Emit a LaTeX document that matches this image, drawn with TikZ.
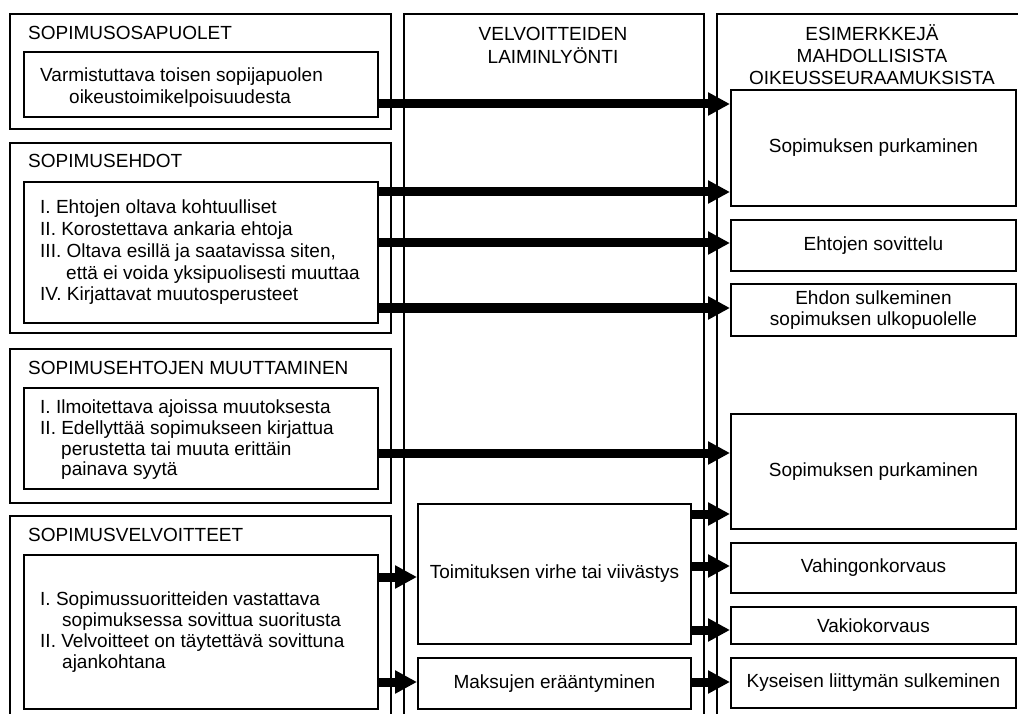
\documentclass[tikz,border=0pt]{standalone}
\usepackage{fontspec}
\setmainfont{Liberation Sans}
\usetikzlibrary{arrows.meta}
\newcommand\dtxt{\fontsize{19}{21.7}\selectfont}
\newcommand\dtxtb{\fontsize{19}{20.8}\selectfont}
\begin{document}
\begin{tikzpicture}[x=1pt,y=-1pt,
  frame/.style={draw, line width=1.9pt, inner sep=0pt, anchor=north west, font=\dtxt, align=center},
  ttl/.style={inner sep=0pt, font=\dtxt, anchor=base west},
  ctl/.style={inner sep=0pt, font=\dtxt, anchor=north, align=center},
  ltxt/.style={inner sep=0pt, anchor=west, align=left},
  arr/.style={line width=9pt, -{Triangle[length=22pt,width=22pt]}}]
\clip (0,0) rectangle (1018,714);
\fill[white] (0,0) rectangle (1018,714);
% column frames
\node[frame, minimum width=381pt, minimum height=115pt] (lo1) at (9,13) {};
\node[frame, minimum width=381pt, minimum height=190pt] (lo2) at (9,142) {};
\node[frame, minimum width=381pt, minimum height=154pt] (lo3) at (9,348) {};
\node[frame, minimum width=381pt, minimum height=230pt] (lo4) at (9,515) {};
\node[frame, minimum width=300pt, minimum height=730pt] (mo) at (403,13) {};
\node[frame, minimum width=312pt, minimum height=730pt] (ro) at (716,13) {};
% titles
\node[ttl] (h1) at (28,40) {SOPIMUSOSAPUOLET};
\node[ttl] (h2) at (28,168) {SOPIMUSEHDOT};
\node[ttl] (h3) at (28,374) {SOPIMUSEHTOJEN MUUTTAMINEN};
\node[ttl] (h4) at (28,541) {SOPIMUSVELVOITTEET};
\node[ctl] (hm) at (553,24.8) {\strut VELVOITTEIDEN\\LAIMINLY\"ONTI};
\node[ctl] (hr) at (872,24.8) {\strut ESIMERKKEJ\"A\\MAHDOLLISISTA\\OIKEUSSEURAAMUKSISTA};
% left inner boxes
\node[frame, minimum width=354pt, minimum height=65pt] (li1) at (23,51) {};
\node[frame, minimum width=354pt, minimum height=141pt] (li2) at (23,181) {};
\node[frame, minimum width=354pt, minimum height=101pt] (li3) at (23,387) {};
\node[frame, minimum width=354pt, minimum height=154pt] (li4) at (23,554) {};
\node[ltxt, font=\dtxt] (t1) at (40,88) {\strut Varmistuttava toisen sopijapuolen\\\hspace*{29pt}oikeustoimikelpoisuudesta\strut};
\node[ltxt, font=\dtxt] (t2) at (40,253) {\strut I. Ehtojen oltava kohtuulliset\\II. Korostettava ankaria ehtoja\\III. Oltava esill\"a ja saatavissa siten,\\\hspace*{26pt}ett\"a ei voida yksipuolisesti muuttaa\\IV. Kirjattavat muutosperusteet\strut};
\node[ltxt, font=\dtxtb] (t3) at (40,440.5) {\strut I. Ilmoitettava ajoissa muutoksesta\\II. Edellytt\"a\"a sopimukseen kirjattua\\\hspace*{21pt}perustetta tai muuta eritt\"ain\\\hspace*{21pt}painava syyt\"a\strut};
\node[ltxt, font=\dtxtb] (t4) at (40,633) {\strut I. Sopimussuoritteiden vastattava\\\hspace*{22pt}sopimuksessa sovittua suoritusta\\II. Velvoitteet on t\"aytett\"av\"a sovittuna\\\hspace*{22pt}ajankohtana\strut};
% middle inner boxes
\node[frame, minimum width=273pt, minimum height=140pt] (m1) at (417,503) {Toimituksen virhe tai viiv\"astys};
\node[frame, minimum width=273pt, minimum height=51pt] (m2) at (417,657) {Maksujen er\"a\"antyminen};
% right inner boxes
\node[frame, minimum width=285pt, minimum height=116pt] (r1) at (730,89) {Sopimuksen purkaminen};
\node[frame, minimum width=285pt, minimum height=51pt] (r2) at (730,219) {Ehtojen sovittelu};
\node[frame, minimum width=285pt, minimum height=52pt] (r3) at (730,283) {Ehdon sulkeminen\\sopimuksen ulkopuolelle};
\node[frame, minimum width=285pt, minimum height=115pt] (r4) at (730,413) {Sopimuksen purkaminen};
\node[frame, minimum width=285pt, minimum height=50pt] (r5) at (730,542) {Vahingonkorvaus};
\node[frame, minimum width=285pt, minimum height=37pt] (r6) at (730,606) {Vakiokorvaus};
\node[frame, minimum width=285pt, minimum height=50pt] (r7) at (730,657) {Kyseisen liittym\"an sulkeminen};
% arrows
\draw[arr] (li1.east |- 0,104) -- (r1.west |- 0,104);
\draw[arr] (li2.east |- 0,192) -- (r1.west |- 0,192);
\draw[arr] (li2.east |- 0,243) -- (r2.west |- 0,243);
\draw[arr] (li2.east |- 0,308) -- (r3.west |- 0,308);
\draw[arr] (li3.east |- 0,453) -- (r4.west |- 0,453);
\draw[arr] (li4.east |- 0,577) -- (m1.west |- 0,577);
\draw[arr] (li4.east |- 0,682) -- (m2.west |- 0,682);
\draw[arr] (m1.east |- 0,514) -- (r4.west |- 0,514);
\draw[arr] (m1.east |- 0,566) -- (r5.west |- 0,566);
\draw[arr] (m1.east |- 0,630) -- (r6.west |- 0,630);
\draw[arr] (m2.east |- 0,682) -- (r7.west |- 0,682);
\end{tikzpicture}
\end{document}
